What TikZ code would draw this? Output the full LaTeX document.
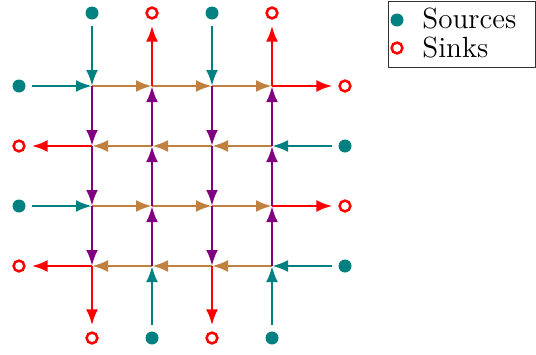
\documentclass[tikz,border=0pt]{standalone}
\usetikzlibrary{arrows.meta}
\definecolor{srcteal}{RGB}{0,128,128}
\definecolor{sinkred}{RGB}{255,0,0}
\definecolor{edgebrown}{RGB}{191,128,64}
\definecolor{edgepurple}{RGB}{128,0,128}
\tikzset{
  srcnode/.style={circle,fill=srcteal,inner sep=0pt,minimum size=6.5pt},
  sinknode/.style={circle,draw=sinkred,line width=1.25pt,inner sep=0pt,minimum size=5.4pt},
  flow/.style={line width=1.35pt,-{Latex[length=8pt,width=6pt]}},
  inflow/.style={flow,srcteal,shorten <=3.2pt},
  outflow/.style={flow,sinkred,shorten >=3pt},
  hflow/.style={flow,edgebrown},
  vflow/.style={flow,edgepurple},
  lbl/.style={anchor=base west,inner sep=0pt,font=\fontsize{14.6}{17}\selectfont},
}
\begin{document}
\begin{tikzpicture}[x=0.5pt,y=-0.5pt]
\useasboundingbox (0,0) rectangle (536,354);
% grid points
\foreach \i/\x in {1/92,2/152,3/212,4/272}{
  \foreach \j/\y in {1/86,2/146,3/206,4/266}{
    \coordinate (g\i\j) at (\x,\y);
  }
}
% top terminals
\node[srcnode] (t1) at (92,13) {};
\node[sinknode] (t2) at (152,13) {};
\node[srcnode] (t3) at (212,13) {};
\node[sinknode] (t4) at (272,13) {};
% bottom terminals
\node[sinknode] (b1) at (92,338) {};
\node[srcnode] (b2) at (152,338) {};
\node[sinknode] (b3) at (212,338) {};
\node[srcnode] (b4) at (272,338) {};
% left terminals
\node[srcnode] (l1) at (19,86) {};
\node[sinknode] (l2) at (19,146) {};
\node[srcnode] (l3) at (19,206) {};
\node[sinknode] (l4) at (19,266) {};
% right terminals
\node[sinknode] (r1) at (345,86) {};
\node[srcnode] (r2) at (345,146) {};
\node[sinknode] (r3) at (345,206) {};
\node[srcnode] (r4) at (345,266) {};

% horizontal flows
\foreach \j in {1,3}{
  \draw[inflow] (l\j) -- (g1\j);
  \draw[hflow] (g1\j) -- (g2\j);
  \draw[hflow] (g2\j) -- (g3\j);
  \draw[hflow] (g3\j) -- (g4\j);
  \draw[outflow] (g4\j) -- (r\j);
}
\foreach \j in {2,4}{
  \draw[inflow] (r\j) -- (g4\j);
  \draw[hflow] (g4\j) -- (g3\j);
  \draw[hflow] (g3\j) -- (g2\j);
  \draw[hflow] (g2\j) -- (g1\j);
  \draw[outflow] (g1\j) -- (l\j);
}
% vertical flows
\foreach \i in {1,3}{
  \draw[inflow] (t\i) -- (g\i1);
  \draw[vflow] (g\i1) -- (g\i2);
  \draw[vflow] (g\i2) -- (g\i3);
  \draw[vflow] (g\i3) -- (g\i4);
  \draw[outflow] (g\i4) -- (b\i);
}
\foreach \i in {2,4}{
  \draw[inflow] (b\i) -- (g\i4);
  \draw[vflow] (g\i4) -- (g\i3);
  \draw[vflow] (g\i3) -- (g\i2);
  \draw[vflow] (g\i2) -- (g\i1);
  \draw[outflow] (g\i1) -- (t\i);
}

% legend
\node[draw=black!80,line width=0.5pt,minimum width=73.5pt,minimum height=33pt,inner sep=0pt,anchor=north west] (legend) at (388,1) {};
\node[srcnode] (legsrc) at (397,20) {};
\node[sinknode] (legsink) at (397,48) {};
\node[lbl] (legsrctext) at (422,28.5) {Sources};
\node[lbl] (legsinktext) at (422,57.5) {Sinks};
\end{tikzpicture}
\end{document}
